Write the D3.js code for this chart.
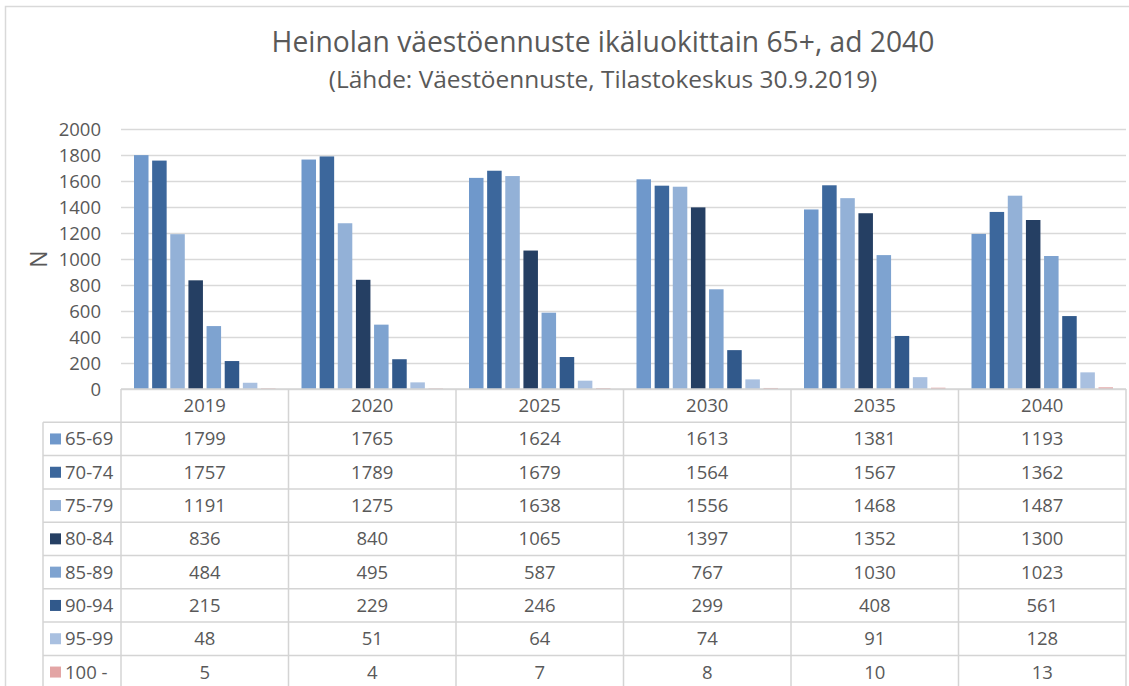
<!DOCTYPE html>
<html>
<head>
<meta charset="utf-8">
<script src="https://cdn.jsdelivr.net/npm/d3@7"></script>
<style>
  body { margin: 0; background: #fff; }
  text { font-family: "Open Sans", "Noto Sans", sans-serif; fill: #595959; }
</style>
</head>
<body>
<script>
// data
const years = ['2019', '2020', '2025', '2030', '2035', '2040'];
const ageGroups = ['65-69', '70-74', '75-79', '80-84', '85-89', '90-94', '95-99', '100 -'];
const v65 = [1799, 1765, 1624, 1613, 1381, 1193];
const v70 = [1757, 1789, 1679, 1564, 1567, 1362];
const v75 = [1191, 1275, 1638, 1556, 1468, 1487];
const v80 = [836, 840, 1065, 1397, 1352, 1300];
const v85 = [484, 495, 587, 767, 1030, 1023];
const v90 = [215, 229, 246, 299, 408, 561];
const v95 = [48, 51, 64, 74, 91, 128];
const v100 = [5, 4, 7, 8, 10, 13];
const yTicks = [0, 200, 400, 600, 800, 1000, 1200, 1400, 1600, 1800, 2000];
const colors = ['#6f98cb', '#3c679c', '#93b1d7', '#253f63', '#7ea3d0', '#31598b', '#a9c0e0', '#e3a5a5'];

const series = [v65, v70, v75, v80, v85, v90, v95, v100];

const W = 1129, H = 686;
const plotLeft = 121, plotRight = 1126, plotTop = 129, plotBottom = 389;
const rowH = 33.3;
const legendLeft = 43;
const gridColor = '#d9d9d9';

const svg = d3.select('body').append('svg')
  .attr('width', W).attr('height', H);

// outer chart border
svg.append('rect')
  .attr('x', 5.5).attr('y', 6.5).attr('width', W + 10).attr('height', H + 10)
  .attr('fill', 'none').attr('stroke', '#d9d9d9').attr('stroke-width', 1.5);

// titles, scaled to the widths of the original
function fitText(sel, target) {
  const w = sel.node().getComputedTextLength();
  sel.style('font-size', (20 * target / w) + 'px');
}
const title = svg.append('text')
  .attr('x', 603).attr('y', 52).attr('text-anchor', 'middle')
  .style('font-size', '20px')
  .text('Heinolan väestöennuste ikäluokittain 65+, ad 2040');
fitText(title, 663);
const sub = svg.append('text')
  .attr('x', 603).attr('y', 88).attr('text-anchor', 'middle')
  .style('font-size', '20px')
  .text('(Lähde: Väestöennuste, Tilastokeskus 30.9.2019)');
fitText(sub, 549);

// scales
const x0 = d3.scaleBand().domain(years).range([plotLeft, plotRight]);
const x1 = d3.scaleBand().domain(d3.range(ageGroups.length))
  .range([13, x0.bandwidth() - 13]).paddingInner(0.2);
const y = d3.scaleLinear().domain([0, 2000]).range([plotBottom, plotTop]);

// gridlines + y labels
const yAxis = svg.append('g')
  .attr('transform', `translate(${plotLeft},0)`)
  .call(d3.axisLeft(y).tickValues(yTicks).tickFormat(d3.format('d'))
    .tickSize(-(plotRight - plotLeft)).tickPadding(20));
yAxis.select('.domain').remove();
yAxis.selectAll('.tick line').attr('stroke', gridColor).attr('stroke-width', 1.5);
yAxis.selectAll('.tick text')
  .style('font-size', '18.5px').style('font-family', '"Open Sans", sans-serif')
  .attr('fill', '#595959').attr('dy', '0.35em');

svg.append('text')
  .attr('transform', 'translate(47,259) rotate(-90)')
  .attr('text-anchor', 'middle')
  .style('font-size', '23px')
  .text('N');

// bars
const groups = svg.append('g').selectAll('g')
  .data(years).join('g')
  .attr('transform', d => `translate(${x0(d)},0)`);
groups.selectAll('rect')
  .data((yr, i) => series.map((s, k) => ({ k, v: s[i] })))
  .join('rect')
  .attr('x', d => x1(d.k))
  .attr('width', x1.bandwidth())
  .attr('y', d => y(d.v))
  .attr('height', d => plotBottom - y(d.v))
  .attr('fill', d => colors[d.k]);

// data table
const table = svg.append('g');
const tableBottom = plotBottom + rowH * (ageGroups.length + 1);
const line = (x1_, y1_, x2_, y2_) => table.append('line')
  .attr('x1', x1_).attr('y1', y1_).attr('x2', x2_).attr('y2', y2_)
  .attr('stroke', '#d4d4d4').attr('stroke-width', 1.5);

// horizontal lines
line(plotLeft, plotBottom, plotRight, plotBottom);
for (let r = 1; r <= ageGroups.length + 1; r++) {
  line(legendLeft, plotBottom + rowH * r, plotRight, plotBottom + rowH * r);
}
// vertical lines
line(legendLeft, plotBottom + rowH, legendLeft, tableBottom);
years.forEach(yr => line(x0(yr), plotBottom, x0(yr), tableBottom));
line(plotRight, plotBottom, plotRight, tableBottom);

// header
table.selectAll('.yr').data(years).join('text')
  .attr('x', d => x0(d) + x0.bandwidth() / 2)
  .attr('y', plotBottom + rowH / 2)
  .attr('dy', '0.35em').attr('text-anchor', 'middle')
  .style('font-size', '18.5px')
  .text(d => d);

// rows
ageGroups.forEach((g, k) => {
  const cy = plotBottom + rowH * (k + 1.5);
  table.append('rect')
    .attr('x', 50).attr('y', cy - 5.5).attr('width', 11).attr('height', 11)
    .attr('fill', colors[k]);
  table.append('text')
    .attr('x', 65).attr('y', cy).attr('dy', '0.35em')
    .style('font-size', '18.5px')
    .text(g);
  table.selectAll(null).data(series[k]).join('text')
    .attr('x', (d, i) => x0(years[i]) + x0.bandwidth() / 2)
    .attr('y', cy).attr('dy', '0.35em').attr('text-anchor', 'middle')
    .style('font-size', '18.5px')
    .text(d => d);
});
</script>
</body>
</html>
